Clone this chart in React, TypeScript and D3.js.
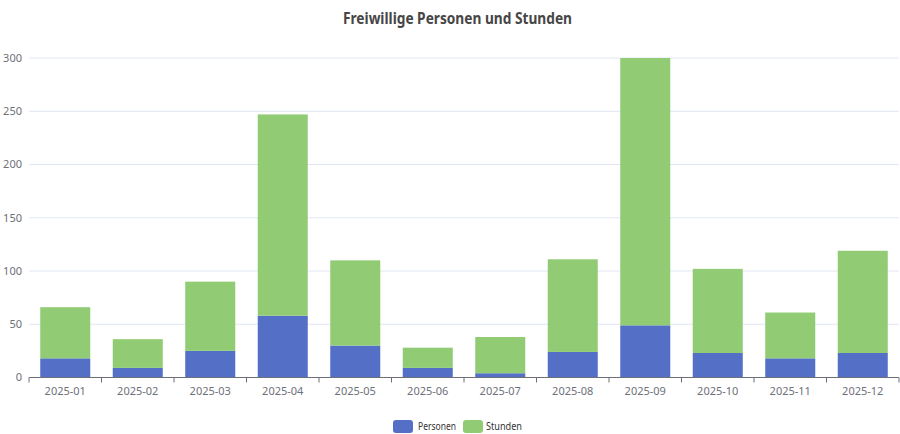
import React from "react";
import * as d3 from "d3";

const months = ["2025-01","2025-02","2025-03","2025-04","2025-05","2025-06","2025-07","2025-08","2025-09","2025-10","2025-11","2025-12"];
const personen = [18, 9, 25, 58, 30, 9, 4, 24, 49, 23, 18, 23];
const stunden = [48, 27, 65, 189, 80, 19, 34, 87, 251, 79, 43, 96];
const yTicks = [0, 50, 100, 150, 200, 250, 300];
const seriesNames = ["Personen", "Stunden"];
const colors = ["#5470c6", "#91cc75"];

const W = 900, H = 434;
const left = 29, right = 899, top = 58, bottom = 377.5;
const FONT = "'Noto Sans', 'Open Sans', sans-serif";

export default function App() {
  const x = d3.scaleBand<string>().domain(months).range([left, right]).padding(0);
  const y = d3.scaleLinear().domain([0, 300]).range([bottom, top]);
  const rows = months.map((m, i) => ({ m, Personen: personen[i], Stunden: stunden[i] }));
  const stack = d3.stack<any>().keys(seriesNames)(rows);
  const bw = x.step() * 0.69;

  const legendItems = [
    { name: "Personen", sx: 393, tx: 418, tw: 38 },
    { name: "Stunden", sx: 463, tx: 486, tw: 36 },
  ];

  return (
    <svg width={W} height={H} style={{ position: "absolute", left: 0, top: 0, background: "#fff" }}>
      <text x={457.5} y={24} textAnchor="middle" fontFamily={FONT} fontWeight="bold" fontSize={16} fill="#464646"
        textLength={229} lengthAdjust="spacingAndGlyphs">
        Freiwillige Personen und Stunden
      </text>
      {yTicks.map((t) => (
        <g key={t}>
          {t !== 0 && <line x1={left} x2={right} y1={y(t)} y2={y(t)} stroke="#E0E6F1" strokeWidth={1} />}
          <text x={22} y={y(t)} dy="0.35em" textAnchor="end" fontFamily={FONT} fontSize={11} fill="#6E7079">{t}</text>
        </g>
      ))}
      {stack.map((layer, si) => (
        <g key={si} fill={colors[si]}>
          {layer.map((d, i) => (
            <rect key={i} x={x(months[i])! + (x.step() - bw) / 2} width={bw}
              y={y(d[1])} height={y(d[0]) - y(d[1])} />
          ))}
        </g>
      ))}
      <line x1={left} x2={right} y1={bottom} y2={bottom} stroke="#6E7079" strokeWidth={1} />
      {d3.range(months.length + 1).map((i) => {
        const px = left + i * x.step();
        return <line key={i} x1={px} x2={px} y1={bottom} y2={bottom + 5} stroke="#6E7079" strokeWidth={1} />;
      })}
      {months.map((m) => (
        <text key={m} x={x(m)! + x.step() / 2} y={bottom + 14} dy="0.35em" textAnchor="middle" fontFamily={FONT} fontSize={11} fill="#6E7079">{m}</text>
      ))}
      {legendItems.map((l, i) => (
        <g key={l.name}>
          <rect x={l.sx} y={420} width={20} height={13} rx={3} fill={colors[i]} />
          <text x={l.tx} y={426.5} dy="0.35em" fontFamily={FONT} fontSize={11} fill="#333"
            textLength={l.tw} lengthAdjust="spacingAndGlyphs">{l.name}</text>
        </g>
      ))}
    </svg>
  );
}
